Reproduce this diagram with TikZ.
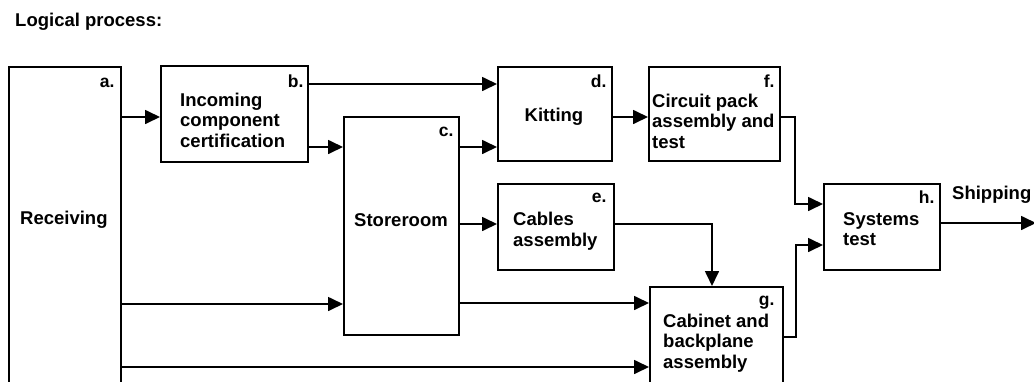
\documentclass[tikz,border=0pt]{standalone}
\usepackage{fontspec}
\setmainfont{Liberation Sans}
\usetikzlibrary{arrows.meta,calc}
\begin{document}
\begin{tikzpicture}[x=1pt,y=-1pt,
  box/.style={draw=black,line width=1.7pt,inner sep=0pt,anchor=north west},
  txt/.style={font=\fontsize{18.5}{20.5}\selectfont\bfseries,inner sep=0pt,align=left},
  tag/.style={font=\fontsize{17.5}{20}\selectfont\bfseries,inner sep=0pt,anchor=base east},
  arr/.style={line width=1.7pt,-{Triangle[length=15pt,width=14pt]}}]
\clip (0,0) rectangle (1034,381);
\fill[white] (0,0) rectangle (1034,381);
% title
\node[txt,anchor=west] (title) at (15,22) {Logical process:};
% boxes
\node[box,minimum width=112pt,minimum height=329pt] (a) at (8,66) {};
\node[box,minimum width=147pt,minimum height=96pt] (b) at (160,65) {};
\node[box,minimum width=115pt,minimum height=218pt] (c) at (343,116) {};
\node[box,minimum width=114pt,minimum height=94pt] (d) at (497,66) {};
\node[box,minimum width=116pt,minimum height=86pt] (e) at (497,183) {};
\node[box,minimum width=131pt,minimum height=94pt] (f) at (648,66) {};
\node[box,minimum width=133pt,minimum height=109pt] (g) at (649,286) {};
\node[box,minimum width=116pt,minimum height=86pt] (h) at (823,183) {};
% tags
\node[tag] (ta) at ($(a.north east)+(-7,21)$) {a.};
\node[tag] (tb) at ($(b.north east)+(-5,22)$) {b.};
\node[tag] (tc) at ($(c.north east)+(-6,20)$) {c.};
\node[tag] (td) at ($(d.north east)+(-6,21)$) {d.};
\node[tag] (te) at ($(e.north east)+(-8,19)$) {e.};
\node[tag] (tf) at ($(f.north east)+(-6,21)$) {f.};
\node[tag] (tg) at ($(g.north east)+(-9,19)$) {g.};
\node[tag] (th) at ($(h.north east)+(-6,20)$) {h.};
% texts
\node[txt,anchor=west] (xa) at (20,220) {Receiving};
\node[txt,anchor=west] (xb) at (180,120) {Incoming\\component\\certification};
\node[txt] (xc) at (401,220) {Storeroom};
\node[txt] (xd) at (554,117) {Kitting};
\node[txt,anchor=west] (xe) at (513,231) {Cables\\assembly};
\node[txt,anchor=west] (xf) at (652,121) {Circuit pack\\assembly and\\test};
\node[txt,anchor=west] (xg) at (663,343) {Cabinet and\\backplane\\assembly};
\node[txt,anchor=west] (xh) at (843,229) {Systems\\test};
\node[txt,anchor=west] (ship) at (952,195) {Shipping};
\coordinate (out) at (1036,223);
% connectors
\draw[arr] (a.east |- 0,117) -- (b.west |- 0,117);
\draw[arr] (b.east |- 0,84) -- (d.west |- 0,84);
\draw[arr] (b.east |- 0,147) -- (c.west |- 0,147);
\draw[arr] (c.east |- 0,147) -- (d.west |- 0,147);
\draw[arr] (d.east |- 0,117) -- (f.west |- 0,117);
\draw[arr] (c.east |- 0,224) -- (e.west |- 0,224);
\draw[arr] (a.east |- 0,304) -- (c.west |- 0,304);
\draw[arr] (c.east |- 0,303) -- (g.west |- 0,303);
\draw[arr] (a.east |- 0,367) -- (g.west |- 0,367);
\draw[arr] (e.east |- 0,224) -| (g.north -| 712,0);
\draw[arr] (f.east |- 0,117) -- ++(14,0) |- (h.west |- 0,204);
\draw[arr] (g.east |- 0,337) -- ++(12,0) |- (h.west |- 0,245);
\draw[arr] (h.east |- 0,223) -- (out);
\end{tikzpicture}
\end{document}
